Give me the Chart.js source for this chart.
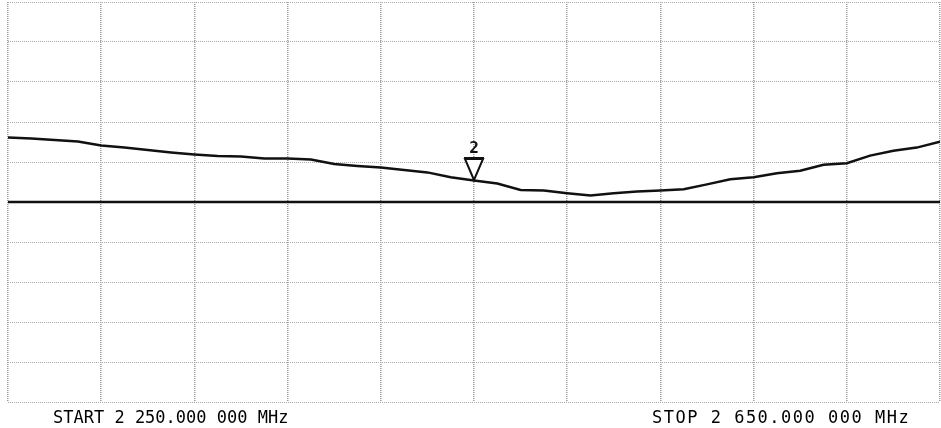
<!DOCTYPE html>
<html>
<head>
<meta charset="utf-8">
<script src="https://cdn.jsdelivr.net/npm/chart.js@4/dist/chart.umd.min.js"></script>
<style>
  html, body { margin: 0; padding: 0; background: #fff; }
  #wrap { width: 941px; height: 428px; }
</style>
</head>
<body>
<div id="wrap"><canvas id="trace-chart"></canvas></div>
<script>
// sweep in MHz, trace in divisions relative to the reference line
const freqs = [2250, 2260, 2270, 2280, 2290, 2300, 2310, 2320, 2330, 2340, 2350,
               2360, 2370, 2380, 2390, 2400, 2410, 2420, 2430, 2440, 2450,
               2460, 2470, 2480, 2490, 2500, 2510, 2520, 2530, 2540, 2550,
               2560, 2570, 2580, 2590, 2600, 2610, 2620, 2630, 2640, 2650];
const trace = [1.61, 1.59, 1.55, 1.51, 1.41, 1.36, 1.30, 1.24, 1.19, 1.15, 1.14,
               1.09, 1.09, 1.06, 0.95, 0.90, 0.86, 0.80, 0.74, 0.62, 0.54,
               0.46, 0.30, 0.29, 0.22, 0.16, 0.22, 0.26, 0.29, 0.32, 0.44,
               0.57, 0.62, 0.72, 0.78, 0.93, 0.97, 1.16, 1.28, 1.36, 1.51];
const refLevel = [0, 0];
const markerLabels = ["2"];
const markerFreqs = [2450];
const markerValues = [0.54];
const startLabel = "START 2 250.000 000 MHz";
const stopLabel = "STOP 2 650.000 000 MHz";

const markerPlugin = {
  id: 'markers',
  afterDatasetsDraw(chart) {
    const ctx = chart.ctx;
    const xs = chart.scales.x, ys = chart.scales.y;
    ctx.save();
    markerFreqs.forEach((f, i) => {
      const px = Math.round(xs.getPixelForValue(f));
      const py = Math.round(ys.getPixelForValue(markerValues[i]));
      ctx.beginPath();
      ctx.moveTo(px, py);
      ctx.lineTo(px - 9, py - 21);
      ctx.lineTo(px + 9, py - 21);
      ctx.closePath();
      ctx.fillStyle = '#fff';
      ctx.fill();
      ctx.lineWidth = 2;
      ctx.strokeStyle = '#111';
      ctx.stroke();
      ctx.beginPath();
      ctx.moveTo(px - 10, py - 22);
      ctx.lineTo(px + 10, py - 22);
      ctx.stroke();
      ctx.fillStyle = '#111';
      ctx.font = 'bold 16px "DejaVu Sans Mono"';
      ctx.textAlign = 'center';
      ctx.textBaseline = 'alphabetic';
      ctx.fillText(markerLabels[i], px, py - 27);
    });
    ctx.restore();
  },
  afterDraw(chart) {
    const ctx = chart.ctx;
    const a = chart.chartArea;
    ctx.save();
    ctx.fillStyle = '#000';
    ctx.font = '17px "DejaVu Sans Mono"';
    ctx.textBaseline = 'alphabetic';
    ctx.textAlign = 'left';
    ctx.fillText(startLabel, a.left + 45, a.bottom + 21);
    ctx.letterSpacing = '1.5px';
    ctx.fillText(stopLabel, a.right - 288, a.bottom + 21);
    ctx.restore();
  }
};

new Chart(document.getElementById("trace-chart"), {
  type: 'line',
  data: {
    datasets: [{
        data: [freqs[0], freqs[freqs.length - 1]].map((f, i) => ({x: f, y: refLevel[i]})),
        borderColor: "#111",
        borderWidth: 2.5,
        pointRadius: 0,
        fill: false
      }, {
        data: freqs.map((f, i) => ({x: f, y: trace[i]})),
        borderColor: "#111",
        borderWidth: 2.5,
        pointRadius: 0,
        tension: 0,
        fill: false
      }
    ]
  },
  options: {
    responsive: true,
    maintainAspectRatio: false,
    animation: false,
    layout: { padding: { left: 8, top: 2, right: 1, bottom: 26 } },
    plugins: {
      legend: { display: false },
      tooltip: { enabled: false }
    },
    scales: {
      x: {
        type: 'linear',
        min: 2250,
        max: 2650,
        ticks: { display: false, stepSize: 40 },
        grid: { color: '#999', drawTicks: false, lineWidth: 1.5 },
        border: { display: false, dash: [1, 1] }
      },
      y: {
        min: -5,
        max: 5,
        ticks: { display: false, stepSize: 1 },
        grid: { color: '#aaa', drawTicks: false, lineWidth: 1 },
        border: { display: false, dash: [1, 1] }
      }
    }
  },
  plugins: [markerPlugin]
});
</script>
</body>
</html>
